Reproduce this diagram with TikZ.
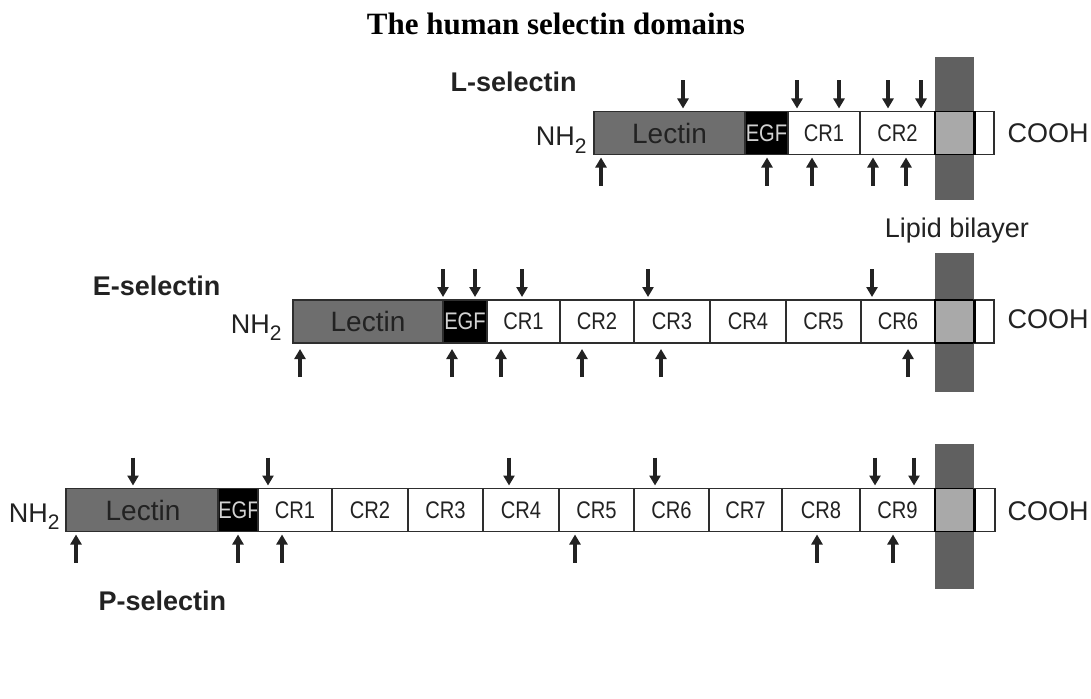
\documentclass[tikz,border=0pt]{standalone}
\usepackage{fontspec}
\setmainfont{Liberation Sans}
\newfontfamily\titlefont{Liberation Serif}
\newfontfamily\narrowsans[FakeStretch=0.84]{Liberation Sans}
\usetikzlibrary{arrows.meta,calc}
\definecolor{lectgrey}{HTML}{6E6E6E}
\definecolor{bandgrey}{HTML}{606060}
\definecolor{memgrey}{HTML}{A9A9A9}
\definecolor{linegrey}{HTML}{2E2E2E}
\definecolor{egftext}{HTML}{D2D2D2}
\definecolor{textdark}{HTML}{222222}
\newcommand\domnode[6]{\node[#5,minimum width={#3-#2}] (#1) at ({(#2+#3)/2},#4) {#6};}
\begin{document}
\begin{tikzpicture}[x=1pt,y=-1pt,
  dom/.style={draw=linegrey,line width=1.9pt,rectangle,inner sep=0pt,outer sep=0pt,minimum height=43pt},
  lectbox/.style={dom,fill=lectgrey,text=textdark,font=\fontsize{28}{28}\selectfont},
  egfbox/.style={dom,fill=black,text=egftext,font=\narrowsans\fontsize{24}{24}\selectfont},
  crbox/.style={dom,fill=white,text=textdark,font=\narrowsans\fontsize{24}{24}\selectfont},
  membox/.style={dom,fill=memgrey,draw=black},
  tailbox/.style={dom,fill=white},
  band/.style={fill=bandgrey,inner sep=0pt,outer sep=0pt,minimum width=39pt},
  rowlabel/.style={font=\bfseries\fontsize{27}{27}\selectfont,text=textdark},
  endlabel/.style={font=\fontsize{27}{27}\selectfont,text=textdark},
  arr/.style={line width=3.2pt,textdark,-{Triangle[width=11pt,length=10pt]}}
]
\useasboundingbox (0,0) rectangle (1091,698);
\fill[white] (0,0) rectangle (1091,698);

\node[font=\titlefont\bfseries\fontsize{31}{31}\selectfont,anchor=base] (title) at (556,35) {The human selectin domains};

% ---------- L-selectin ----------
\node[band,minimum height=143pt] (Lband) at (954.5,128.5) {};
\domnode{Llec}{594}{745}{133}{lectbox}{Lectin}
\domnode{Legf}{745}{788}{133}{egfbox}{EGF}
\domnode{Lcr1}{788}{860}{133}{crbox}{CR1}
\domnode{Lcr2}{860}{935}{133}{crbox}{CR2}
\domnode{Lmem}{935}{974}{133}{membox}{}
\domnode{Ltail}{974}{994}{133}{tailbox}{}
\draw[line width=3pt] (Lmem.north east) -- (Lmem.south east);
\node[rowlabel,anchor=base west] (Llab) at (447,92) {L-selectin};
\node[endlabel,anchor=base east] (Lnh) at (590,146) {NH\raisebox{-7pt}{\fontsize{21}{21}\selectfont 2}};
\node[endlabel,anchor=base west] (Lco) at (1004,142) {COOH};
\node[endlabel,anchor=base] (lipid) at (957,237) {Lipid bilayer};
\path (Llec.north) coordinate (Ltop) (Llec.south) coordinate (Lbot);
\foreach \x in {683,797,839,888,921}
  \draw[arr] ($(\x,0 |- Ltop)+(0,-31)$) -- ($(\x,0 |- Ltop)+(0,-3)$);
\foreach \x in {601,767,812,873,906}
  \draw[arr] ($(\x,0 |- Lbot)+(0,31)$) -- ($(\x,0 |- Lbot)+(0,3)$);

% ---------- E-selectin ----------
\node[band,minimum height=139pt] (Eband) at (954.5,322.5) {};
\domnode{Elec}{293}{443}{321.5}{lectbox}{Lectin}
\domnode{Eegf}{443}{487}{321.5}{egfbox}{EGF}
\domnode{Ecr1}{487}{560}{321.5}{crbox}{CR1}
\domnode{Ecr2}{560}{634}{321.5}{crbox}{CR2}
\domnode{Ecr3}{634}{710}{321.5}{crbox}{CR3}
\domnode{Ecr4}{710}{786}{321.5}{crbox}{CR4}
\domnode{Ecr5}{786}{861}{321.5}{crbox}{CR5}
\domnode{Ecr6}{861}{935}{321.5}{crbox}{CR6}
\domnode{Emem}{935}{974}{321.5}{membox}{}
\domnode{Etail}{974}{994}{321.5}{tailbox}{}
\draw[line width=3pt] (Emem.north east) -- (Emem.south east);
\node[rowlabel,anchor=base east] (Elab) at (224,295) {E-selectin};
\node[endlabel,anchor=base east] (Enh) at (285,333) {NH\raisebox{-7pt}{\fontsize{21}{21}\selectfont 2}};
\node[endlabel,anchor=base west] (Eco) at (1004,328) {COOH};
\path (Elec.north) coordinate (Etop) (Elec.south) coordinate (Ebot);
\foreach \x in {443,475,522,648,872}
  \draw[arr] ($(\x,0 |- Etop)+(0,-31)$) -- ($(\x,0 |- Etop)+(0,-3)$);
\foreach \x in {300,452,501,582,661,908}
  \draw[arr] ($(\x,0 |- Ebot)+(0,34)$) -- ($(\x,0 |- Ebot)+(0,6)$);

% ---------- P-selectin ----------
\node[band,minimum height=145pt] (Pband) at (954.5,516.5) {};
\domnode{Plec}{66}{220}{510}{lectbox}{Lectin}
\domnode{Pegf}{220}{258}{510}{egfbox}{EGF}
\domnode{Pcr1}{258}{332}{510}{crbox}{CR1}
\domnode{Pcr2}{332}{408}{510}{crbox}{CR2}
\domnode{Pcr3}{408}{483}{510}{crbox}{CR3}
\domnode{Pcr4}{483}{559}{510}{crbox}{CR4}
\domnode{Pcr5}{559}{634}{510}{crbox}{CR5}
\domnode{Pcr6}{634}{709}{510}{crbox}{CR6}
\domnode{Pcr7}{709}{782}{510}{crbox}{CR7}
\domnode{Pcr8}{782}{860}{510}{crbox}{CR8}
\domnode{Pcr9}{860}{935}{510}{crbox}{CR9}
\domnode{Pmem}{935}{974}{510}{membox}{}
\domnode{Ptail}{974}{995}{510}{tailbox}{}
\draw[line width=3pt] (Pmem.north east) -- (Pmem.south east);
\node[rowlabel,anchor=base west] (Plab) at (95,610) {P-selectin};
\node[endlabel,anchor=base east] (Pnh) at (63,522) {NH\raisebox{-7pt}{\fontsize{21}{21}\selectfont 2}};
\node[endlabel,anchor=base west] (Pco) at (1004,520) {COOH};
\path (Plec.north) coordinate (Ptop) (Plec.south) coordinate (Pbot);
\foreach \x in {133,268,509,655,875,914}
  \draw[arr] ($(\x,0 |- Ptop)+(0,-31)$) -- ($(\x,0 |- Ptop)+(0,-3)$);
\foreach \x in {76,238,282,575,817,893}
  \draw[arr] ($(\x,0 |- Pbot)+(0,31)$) -- ($(\x,0 |- Pbot)+(0,3)$);
\end{tikzpicture}
\end{document}
